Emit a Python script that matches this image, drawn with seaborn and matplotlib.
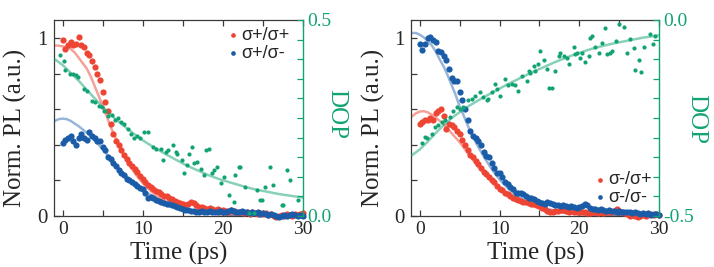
import matplotlib
matplotlib.use("Agg")
import matplotlib.pyplot as plt
import seaborn as sns

sns.set_style("ticks")
plt.rcParams['font.family'] = ['Liberation Serif', 'STIXGeneral', 'DejaVu Serif']

# ---------------- data ----------------
t_pl = [0.0, 0.33, 0.67, 1.0, 1.33, 1.67, 2.0, 2.33, 2.67, 3.0,
        3.33, 3.67, 4.0, 4.33, 4.67, 5.0, 5.33, 5.67, 6.0, 6.33,
        6.67, 7.0, 7.33, 7.67, 8.0, 8.33, 8.67, 9.0, 9.33, 9.67,
        10.0, 10.33, 10.67, 11.0, 11.33, 11.67, 12.0, 12.33, 12.67, 13.0,
        13.33, 13.67, 14.0, 14.33, 14.67, 15.0, 15.33, 15.67, 16.0, 16.33,
        16.67, 17.0, 17.33, 17.67, 18.0, 18.33, 18.67, 19.0, 19.33, 19.67,
        20.0, 20.33, 20.67, 21.0, 21.33, 21.67, 22.0, 22.33, 22.67, 23.0,
        23.33, 23.67, 24.0, 24.33, 24.67, 25.0, 25.33, 25.67, 26.0, 26.33,
        26.67, 27.0, 27.33, 27.67, 28.0, 28.33, 28.67, 29.0, 29.33, 29.67,
        30.0]

# left panel: sigma+ excitation
pl_pp = [0.99, 0.94, 0.96, 0.98, 0.96, 0.97, 1.01, 0.96, 0.95, 0.92,
         0.905, 0.87, 0.84, 0.80, 0.765, 0.70, 0.64, 0.59, 0.52, 0.46,
         0.42, 0.40, 0.37, 0.345, 0.32, 0.30, 0.28, 0.265, 0.25, 0.225,
         0.21, 0.19, 0.175, 0.165, 0.15, 0.14, 0.135, 0.125, 0.115, 0.11,
         0.10, 0.095, 0.085, 0.08, 0.075, 0.07, 0.06, 0.065, 0.08, 0.075,
         0.06, 0.05, 0.05, 0.045, 0.04, 0.045, 0.04, 0.035, 0.04, 0.03,
         0.035, 0.03, 0.025, 0.035, 0.03, 0.02, 0.025, 0.02, 0.015, 0.02,
         0.01, 0.02, 0.015, 0.01, 0.015, 0.01, 0.015, 0.005, 0.01, 0.0,
         -0.005, 0.0, 0.005, 0.0, 0.01, 0.005, 0.0, 0.01, 0.005, 0.01,
         0.015]
pl_pm = [0.41, 0.43, 0.44, 0.45, 0.42, 0.40, 0.44, 0.46, 0.44, 0.43,
         0.47, 0.45, 0.44, 0.42, 0.42, 0.39, 0.37, 0.33, 0.32, 0.30,
         0.28, 0.26, 0.24, 0.23, 0.21, 0.20, 0.19, 0.18, 0.17, 0.16,
         0.15, 0.13, 0.10, 0.105, 0.10, 0.09, 0.085, 0.08, 0.075, 0.07,
         0.065, 0.06, 0.055, 0.05, 0.045, 0.04, 0.035, 0.035, 0.03, 0.03,
         0.025, 0.025, 0.03, 0.02, 0.025, 0.03, 0.02, 0.025, 0.02, 0.03,
         0.02, 0.025, 0.03, 0.035, 0.03, 0.025, 0.02, 0.03, 0.025, 0.02,
         0.015, 0.02, 0.015, 0.02, 0.01, 0.015, 0.01, 0.005, 0.01, 0.005,
         0.0, -0.005, 0.0, 0.005, 0.0, 0.005, 0.01, 0.005, 0.0, 0.005,
         0.0]

# right panel: sigma- excitation
pl_mp = [0.52, 0.53, 0.54, 0.54, 0.55, 0.54, 0.58, 0.59, 0.60, 0.56,
         0.49, 0.515, 0.51, 0.50, 0.48, 0.46, 0.43, 0.40, 0.37, 0.345,
         0.33, 0.31, 0.29, 0.27, 0.25, 0.235, 0.22, 0.20, 0.19, 0.17,
         0.15, 0.145, 0.13, 0.125, 0.115, 0.10, 0.095, 0.09, 0.085, 0.08,
         0.08, 0.075, 0.07, 0.068, 0.06, 0.055, 0.045, 0.04, 0.03, 0.02,
         0.025, 0.03, 0.03, 0.035, 0.034, 0.03, 0.025, 0.03, 0.025, 0.024,
         0.02, 0.025, 0.02, 0.015, 0.015, 0.02, 0.02, 0.015, 0.02, 0.015,
         0.02, 0.025, 0.02, 0.03, 0.038, 0.03, 0.02, 0.015, 0.01, 0.0,
         0.005, 0.0, -0.005, 0.0, 0.005, 0.0, 0.005, 0.01, 0.005, 0.01,
         0.006]
pl_mm = [0.97, 0.935, 0.97, 1.0, 1.01, 0.99, 0.98, 0.93, 0.925, 0.90,
         0.88, 0.83, 0.776, 0.757, 0.757, 0.70, 0.65, 0.60, 0.54, 0.48,
         0.45, 0.44, 0.42, 0.40, 0.36, 0.34, 0.33, 0.30, 0.27, 0.24,
         0.24, 0.22, 0.19, 0.18, 0.165, 0.15, 0.13, 0.128, 0.128, 0.125,
         0.115, 0.10, 0.10, 0.095, 0.085, 0.08, 0.075, 0.07, 0.08, 0.075,
         0.065, 0.06, 0.06, 0.055, 0.06, 0.055, 0.05, 0.055, 0.05, 0.045,
         0.05, 0.055, 0.068, 0.06, 0.045, 0.04, 0.04, 0.035, 0.04, 0.035,
         0.03, 0.035, 0.03, 0.03, 0.025, 0.03, 0.02, 0.025, 0.02, 0.02,
         0.015, 0.02, 0.015, 0.01, 0.015, 0.01, 0.015, 0.005, 0.01, 0.01,
         0.005]

# fitted curves
t_fit = [-1, -0.5, 0, 0.5, 1, 1.5, 2, 2.5, 3, 3.5, 4, 4.5, 5, 5.5, 6, 6.5,
         7, 7.5, 8, 9, 10, 11, 12, 13, 14, 15, 16, 17, 18, 20, 22, 25, 30]
fit_pp = [0.96, 0.958, 0.955, 0.95, 0.94, 0.92, 0.89, 0.86, 0.83, 0.785,
          0.73, 0.675, 0.62, 0.56, 0.50, 0.45, 0.40, 0.355, 0.31, 0.24,
          0.185, 0.14, 0.105, 0.078, 0.057, 0.042, 0.03, 0.022, 0.016,
          0.008, 0.004, 0.001, 0.0]
fit_pm = [0.535, 0.545, 0.548, 0.545, 0.535, 0.52, 0.505, 0.487, 0.468,
          0.448, 0.425, 0.40, 0.375, 0.348, 0.32, 0.293, 0.268, 0.244,
          0.222, 0.182, 0.147, 0.117, 0.092, 0.072, 0.055, 0.042, 0.032,
          0.024, 0.018, 0.01, 0.005, 0.002, 0.0]
fit_mp = [0.56, 0.578, 0.588, 0.59, 0.583, 0.57, 0.553, 0.535, 0.515, 0.49,
          0.465, 0.44, 0.415, 0.385, 0.355, 0.325, 0.295, 0.268, 0.242,
          0.195, 0.155, 0.122, 0.095, 0.074, 0.057, 0.044, 0.033, 0.025,
          0.019, 0.01, 0.005, 0.002, 0.0]
fit_mm = [1.03, 1.03, 1.02, 1.005, 0.985, 0.96, 0.925, 0.88, 0.84, 0.79,
          0.735, 0.68, 0.615, 0.565, 0.51, 0.46, 0.415, 0.375, 0.335,
          0.265, 0.205, 0.158, 0.12, 0.092, 0.07, 0.053, 0.04, 0.03,
          0.022, 0.012, 0.006, 0.002, 0.0]

# degree of polarization
t_dop_L = [-0.35, 0.1, 0.3, 0.9, 1.3, 1.7, 1.9, 2.6, 3.0, 3.6, 4.0, 4.5, 4.9,
           5.2, 5.7, 6.1, 6.5, 6.9, 7.3, 7.7, 8.1, 8.5, 8.9, 9.3, 9.7, 10.2,
           10.6, 11.24, 11.65, 12.27, 12.47, 12.89, 13.1, 13.71, 14.13,
           14.33, 14.95, 15.16, 15.57, 15.78, 16.19, 16.4, 16.81, 17.22,
           17.64, 17.84, 18.26, 18.67, 18.88, 19.29, 19.7, 20.12, 20.73,
           21.35, 21.56, 21.97, 22.18, 22.8, 23.2, 23.83, 24.24, 24.66,
           24.86, 25.28, 25.9, 26.31, 27.35, 27.55, 27.96, 28.37, 29.41]
dop_L = [0.41, 0.396, 0.372, 0.363, 0.363, 0.36, 0.355, 0.324, 0.32, 0.294,
         0.29, 0.28, 0.277, 0.269, 0.256, 0.258, 0.245, 0.25, 0.24, 0.235,
         0.222, 0.21, 0.2, 0.205, 0.2, 0.214, 0.214, 0.176, 0.172, 0.172,
         0.142, 0.163, 0.168, 0.18, 0.163, 0.159, 0.142, 0.109, 0.13, 0.159,
         0.176, 0.134, 0.138, 0.121, 0.104, 0.168, 0.172, 0.109, 0.117,
         0.125, 0.083, 0.1, 0.053, 0.036, 0.104, 0.125, 0.125, 0.074, 0.007,
         0.007, 0.066, 0.041, 0.041, 0.074, 0.125, 0.079, 0.028, 0.028,
         0.117, 0.091, 0.041]
t_dop_R = [0.21, 0.63, 0.84, 1.47, 1.89, 2.31, 2.73, 3.14, 3.77, 4.19, 4.61,
           5.03, 5.45, 6.08, 6.5, 6.92, 7.55, 7.97, 8.39, 8.6, 9.01, 9.43,
           9.64, 10.06, 10.69, 11.1, 11.53, 11.95, 12.37, 12.79, 13.42,
           13.63, 13.84, 14.26, 14.47, 14.88, 15.09, 15.51, 15.93, 16.14,
           16.56, 16.98, 17.4, 17.61, 18.03, 18.45, 18.66, 19.29, 19.5,
           19.71, 20.13, 20.34, 20.75, 21.17, 21.38, 21.59, 22.01, 22.43,
           22.85, 23.27, 23.48, 23.9, 24.11, 24.65, 24.95, 25.66, 26.0,
           26.42, 26.84, 27.04, 27.46, 27.8, 28.18, 28.85, 29.22, 29.56]
dop_R = [-0.315, -0.298, -0.302, -0.29, -0.273, -0.269, -0.26, -0.256,
         -0.248, -0.231, -0.222, -0.227, -0.222, -0.205, -0.201, -0.193,
         -0.184, -0.197, -0.205, -0.201, -0.184, -0.163, -0.176, -0.193,
         -0.151, -0.167, -0.163, -0.167, -0.18, -0.142, -0.155, -0.13,
         -0.134, -0.117, -0.13, -0.113, -0.079, -0.102, -0.125, -0.173,
         -0.173, -0.129, -0.091, -0.085, -0.091, -0.096, -0.113, -0.07,
         -0.087, -0.083, -0.096, -0.083, -0.108, -0.091, -0.045, -0.04,
         -0.07, -0.083, -0.058, -0.021, -0.087, -0.083, -0.08, -0.054,
         -0.011, -0.017, -0.085, -0.049, -0.072, -0.127, -0.102, -0.132,
         -0.068, -0.035, -0.061, -0.04]
t_dop_fit = [-1, 0, 1, 2, 3, 4, 5, 6, 7, 8, 9, 10, 11, 12, 13, 14, 15, 16,
             17, 18, 19, 20, 21, 22, 23, 24, 25, 26, 27, 28, 29, 30]
dop_fit_L = [0.40, 0.385, 0.365, 0.345, 0.322, 0.30, 0.278, 0.258, 0.24,
             0.224, 0.208, 0.193, 0.18, 0.168, 0.156, 0.145, 0.134, 0.124,
             0.115, 0.106, 0.098, 0.091, 0.085, 0.079, 0.073, 0.068, 0.064,
             0.06, 0.056, 0.053, 0.05, 0.047]
dop_fit_R = [-0.345, -0.33, -0.31, -0.288, -0.268, -0.25, -0.235, -0.221,
             -0.209, -0.197, -0.186, -0.175, -0.164, -0.154, -0.144, -0.134,
             -0.125, -0.116, -0.107, -0.099, -0.091, -0.084, -0.077, -0.071,
             -0.066, -0.061, -0.057, -0.053, -0.049, -0.045, -0.042, -0.039]

x_ticks = [0, 5, 10, 15, 20, 25, 30]
x_ticklabels = ['0', '', '10', '', '20', '', '30']
y_ticks = [0, 0.2, 0.4, 0.6, 0.8, 1.0]
y_ticklabels = ['0', '', '', '', '', '1']
dop_ticks_L = [0, 0.05, 0.1, 0.15, 0.2, 0.25, 0.3, 0.35, 0.4, 0.45, 0.5]
dop_ticks_R = [-0.5, -0.45, -0.4, -0.35, -0.3, -0.25, -0.2, -0.15, -0.1, -0.05, 0.0]
dop_labels_L = ['0.0'] + [''] * 9 + ['0.5']
dop_labels_R = ['-0.5'] + [''] * 9 + ['0.0']

RED = "#EE4433"
BLUE = "#1B5CA8"
GREEN = "#12A374"
GRAY = "#3a3a3a"

fig = plt.figure(figsize=(7.14, 2.67), dpi=100)
axL = fig.add_axes([54.3 / 714, 51 / 267, 248.7 / 714, 196 / 267])
axR = fig.add_axes([411.5 / 714, 51 / 267, 247.5 / 714, 196 / 267])


def panel(ax, red, blue, fred, fblue, lab_red, lab_blue, tdop, dop, dfit,
          dlim, dticks, dlabels, leg_anchor, leg_loc):
    sns.lineplot(x=t_fit, y=fred, color=RED, alpha=0.5, lw=1.8, ax=ax,
                 zorder=2, legend=False)
    sns.lineplot(x=t_fit, y=fblue, color=BLUE, alpha=0.45, lw=1.8, ax=ax,
                 zorder=2, legend=False)
    sns.scatterplot(x=t_pl, y=red, color=RED, s=20, linewidth=0, ax=ax,
                    label=lab_red, clip_on=False, zorder=3)
    sns.scatterplot(x=t_pl, y=blue, color=BLUE, s=20, linewidth=0, ax=ax,
                    label=lab_blue, clip_on=False, zorder=3)
    ax.set_xlim(-1.05, 30)
    ax.set_ylim(0, 1.103)
    ax.set_xticks(x_ticks)
    ax.set_xticklabels(x_ticklabels)
    ax.set_yticks(y_ticks)
    ax.set_yticklabels(y_ticklabels)
    ax.tick_params(axis='x', direction='in', top=True, bottom=True,
                   length=4, width=0.9, color=GRAY, labelsize=14, pad=3.5)
    ax.tick_params(axis='y', direction='in', left=True, right=False,
                   length=4, width=0.9, color=GRAY, labelsize=15, pad=5)
    for s in ['left', 'top', 'bottom']:
        ax.spines[s].set_color(GRAY)
        ax.spines[s].set_linewidth(0.9)
        ax.spines[s].set_visible(True)
    ax.spines['right'].set_visible(False)
    ax.set_xlabel('Time (ps)', fontsize=18, va='center', ha='center')
    ax.xaxis.set_label_coords(0.5, -0.192)
    ax.set_ylabel('Norm. PL (a.u.)', fontsize=18, va='center', ha='center')
    ax.yaxis.set_label_coords(-0.155, 0.45)
    ax.legend(loc=leg_loc, bbox_to_anchor=leg_anchor, frameon=False,
              prop={'family': 'Liberation Sans', 'size': 13},
              handletextpad=0.05, handlelength=0.8, labelspacing=0.05,
              borderaxespad=0, borderpad=0, markerscale=0.75)

    ax2 = ax.twinx()
    sns.lineplot(x=t_dop_fit, y=dfit, color=GREEN, alpha=0.5, lw=1.8,
                 ax=ax2, legend=False, zorder=2)
    sns.scatterplot(x=tdop, y=dop, color=GREEN, s=9, linewidth=0, ax=ax2,
                    legend=False, clip_on=False, zorder=3)
    ax2.set_xlim(-1.05, 30)
    ax2.set_ylim(*dlim)
    ax2.set_yticks(dticks)
    ax2.set_yticklabels(dlabels)
    ax2.tick_params(axis='y', direction='in', right=True, left=False,
                    length=4, width=0.9, color=GREEN, labelcolor=GREEN,
                    labelsize=14, pad=3)
    for s in ['left', 'top', 'bottom']:
        ax2.spines[s].set_visible(False)
    ax2.spines['right'].set_color(GREEN)
    ax2.spines['right'].set_linewidth(1.0)
    ax2.set_ylabel('DOP', fontsize=18, color=GREEN, rotation=270,
                   va='center', ha='center')
    return ax2


a2L = panel(axL, pl_pp, pl_pm, fit_pp, fit_pm, 'σ+/σ+', 'σ+/σ-',
            t_dop_L, dop_L, dop_fit_L, (0, 0.5), dop_ticks_L, dop_labels_L,
            (0.945, 0.965), 'upper right')
a2L.yaxis.set_label_coords(1.133, 0.52)
a2R = panel(axR, pl_mp, pl_mm, fit_mp, fit_mm, 'σ-/σ+', 'σ-/σ-',
            t_dop_R, dop_R, dop_fit_R, (-0.5, 0.0), dop_ticks_R, dop_labels_R,
            (0.97, 0.05), 'lower right')
a2R.yaxis.set_label_coords(1.15, 0.495)

fig.savefig('out.png', dpi=100)
